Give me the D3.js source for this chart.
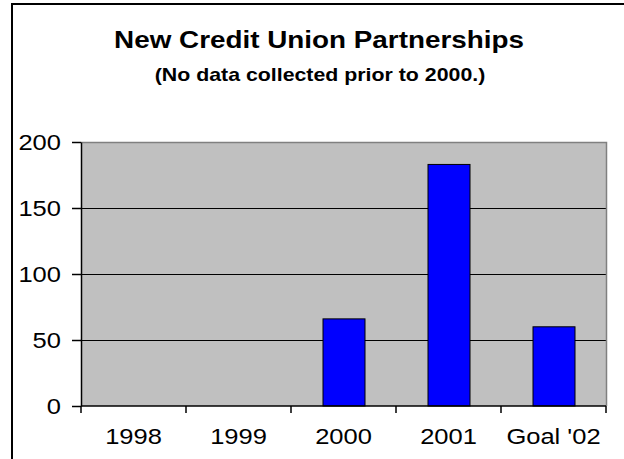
<!DOCTYPE html>
<html>
<head>
<meta charset="utf-8">
<script src="https://cdn.jsdelivr.net/npm/d3@7"></script>
<style>
  html, body { margin: 0; padding: 0; background: #fff; }
  svg { display: block; font-family: Arial, "Liberation Sans", sans-serif; }
</style>
</head>
<body>
<svg id="chart" width="624" height="459"></svg>
<script>
// Partnerships per year; no data before 2000
const categories = ["1998", "1999", "2000", "2001", "Goal '02"];
const partnerships = [null, null, 66, 183, 60];
const yTicks = [0, 50, 100, 150, 200];

const svg = d3.select("#chart");
const W = 624, H = 459;
const plot = { left: 81, right: 606, top: 142, bottom: 406 };
const STRETCH = 1.16; // text is drawn slightly widened

function label(parent, x, y, str, size, anchor, bold) {
  const g = parent.append("g")
    .attr("transform", `translate(${x},${y}) scale(${STRETCH},1)`);
  g.append("text")
    .attr("x", 0).attr("y", 0)
    .attr("text-anchor", anchor)
    .attr("font-size", size)
    .attr("font-weight", bold ? "bold" : "normal")
    .attr("fill", "#000")
    .text(str);
  return g;
}

// outer frame
svg.append("rect")
  .attr("x", 12).attr("y", 4)
  .attr("width", W + 20).attr("height", H + 20)
  .attr("fill", "#fff").attr("stroke", "#000").attr("stroke-width", 2);

// titles
label(svg, 319, 48, "New Credit Union Partnerships", 24, "middle", true);
label(svg, 320, 81, "(No data collected prior to 2000.)", 18.4, "middle", true);

const x = d3.scaleBand()
  .domain(categories)
  .range([plot.left, plot.right])
  .paddingInner(0.6).paddingOuter(0.3);
const xBand = d3.scaleBand().domain(categories).range([plot.left, plot.right]);
const y = d3.scaleLinear().domain([0, 200]).range([plot.bottom, plot.top]);

// plot background
svg.append("rect")
  .attr("x", plot.left).attr("y", plot.top)
  .attr("width", plot.right - plot.left).attr("height", plot.bottom - plot.top)
  .attr("fill", "#c0c0c0");

// gridlines
svg.append("g")
  .selectAll("line")
  .data(yTicks.filter(d => d > 0 && d < 200))
  .join("line")
  .attr("x1", plot.left).attr("x2", plot.right)
  .attr("y1", d => Math.round(y(d)) + 0.5).attr("y2", d => Math.round(y(d)) + 0.5)
  .attr("stroke", "#000").attr("stroke-width", 1);

// plot border (top and right)
svg.append("path")
  .attr("d", `M${plot.left},${plot.top + 0.5}H${plot.right + 0.5}V${plot.bottom}`)
  .attr("fill", "none").attr("stroke", "#808080").attr("stroke-width", 1.5);

// bars
svg.append("g")
  .selectAll("rect")
  .data(categories.map((c, i) => ({ c, v: partnerships[i] })).filter(d => d.v != null))
  .join("rect")
  .attr("x", d => x(d.c) + 0.5)
  .attr("y", d => y(d.v))
  .attr("width", x.bandwidth())
  .attr("height", d => y(0) - y(d.v))
  .attr("fill", "#0000ff").attr("stroke", "#000").attr("stroke-width", 1);

// y axis
const yAxis = d3.axisLeft(y).tickValues(yTicks).tickSize(9).tickFormat("").tickSizeOuter(0);
const gy = svg.append("g").attr("transform", `translate(${plot.left},0)`).call(yAxis);
gy.select(".domain").attr("stroke", "#000").attr("stroke-width", 1.5);
gy.selectAll(".tick line").attr("stroke", "#000").attr("stroke-width", 1.5);
yTicks.forEach(t => label(svg, 61, y(t) + 8, String(t), 22, "end", false));

// x axis: ticks sit on category boundaries
const gx = svg.append("g").attr("transform", `translate(0,${plot.bottom})`);
gx.append("line")
  .attr("x1", plot.left).attr("x2", plot.right)
  .attr("stroke", "#000").attr("stroke-width", 1.5);
gx.selectAll("line.tk")
  .data(categories.map(c => xBand(c)).concat([plot.right]))
  .join("line").attr("class", "tk")
  .attr("x1", d => d).attr("x2", d => d)
  .attr("y1", 0).attr("y2", 7)
  .attr("stroke", "#000").attr("stroke-width", 1.5);
categories.forEach(c =>
  label(svg, xBand(c) + xBand.bandwidth() / 2, 444, c, 22, "middle", false));
</script>
</body>
</html>
